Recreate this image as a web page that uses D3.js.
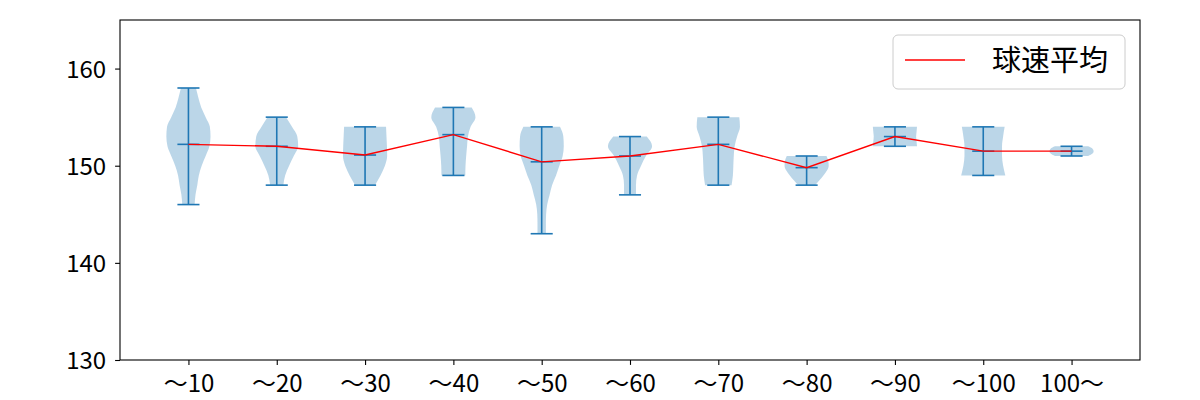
<!DOCTYPE html>
<html>
<head>
<meta charset="utf-8">
<script src="https://cdn.jsdelivr.net/npm/d3@7"></script>
<style>
  html, body { margin: 0; padding: 0; background: #fff; }
  svg { display: block; }
  text { font-family: "Noto Sans CJK JP", "Noto Sans", sans-serif; fill: #000; }
</style>
</head>
<body>
<svg id="chart" width="1200" height="400"></svg>
<script>
// ---- data ----
const categories = ["〜10", "〜20", "〜30", "〜40", "〜50", "〜60", "〜70", "〜80", "〜90", "〜100", "100〜"];
const minVals  = [146, 148, 148, 149, 143, 147, 148, 148, 152, 149, 151];
const maxVals  = [158, 155, 154, 156, 154, 153, 155, 151, 154, 154, 152];
const meanVals = [152.2, 152.0, 151.1, 153.2, 150.4, 151.0, 152.2, 149.8, 153.0, 151.5, 151.5];
// relative density, sampled evenly from min to max of each group
const violinDensity = [
  [0.28, 0.32, 0.40, 0.47, 0.60, 0.78, 0.95, 1.00, 0.97, 0.78, 0.58, 0.45, 0.34],
  [0.30, 0.38, 0.56, 0.77, 0.97, 0.93, 0.69, 0.42],
  [0.45, 0.70, 0.90, 1.00, 0.99, 0.97, 0.95],
  [0.54, 0.55, 0.58, 0.62, 0.66, 0.78, 1.00, 0.83],
  [0.19, 0.19, 0.20, 0.25, 0.36, 0.47, 0.65, 0.80, 0.95, 1.00, 0.98, 0.83],
  [0.27, 0.27, 0.32, 0.50, 0.72, 1.00, 0.76],
  [0.60, 0.66, 0.68, 0.70, 0.74, 0.85, 0.98, 0.95],
  [0.38, 0.58, 0.76, 0.92, 1.00, 0.98, 0.90],
  [1.00, 0.98, 0.96, 0.98, 1.00],
  [1.00, 0.90, 0.85, 0.85, 0.90, 0.97],
  [0.75, 0.95, 1.00, 0.95, 0.75]
];
const yTicks = [130, 140, 150, 160];
const legendLabel = "球速平均";

// ---- layout ----
const W = 1200, H = 400;
const margin = { left: 120, right: 60, top: 20, bottom: 40 };
const svg = d3.select("#chart");
const blue = "#1f77b4";

const x = d3.scaleLinear()
  .domain([0.225, categories.length + 0.775])
  .range([margin.left, W - margin.right]);
const y = d3.scaleLinear()
  .domain([130, 165])
  .range([H - margin.bottom, margin.top]);

const halfW = (x(1.25) - x(1)); // violin half width = 0.25 units
const capHalf = (x(1.125) - x(1));

// violins
const g = svg.append("g");
categories.forEach((c, i) => {
  const cx = x(i + 1);
  const dens = violinDensity[i];
  const n = dens.length;
  const pts = dens.map((d, k) => ({ v: minVals[i] + (maxVals[i] - minVals[i]) * k / (n - 1), d }));
  const area = d3.area()
    .y(p => y(p.v))
    .x0(p => cx - p.d * halfW)
    .x1(p => cx + p.d * halfW)
    .curve(d3.curveMonotoneY);
  g.append("path")
    .attr("d", area(pts))
    .attr("fill", blue)
    .attr("fill-opacity", 0.3);
});

// extrema & mean lines
categories.forEach((c, i) => {
  const cx = x(i + 1);
  const lg = g.append("g").attr("stroke", blue).attr("stroke-width", 1.6);
  lg.append("line").attr("x1", cx).attr("x2", cx).attr("y1", y(minVals[i])).attr("y2", y(maxVals[i]));
  [minVals[i], maxVals[i], meanVals[i]].forEach(v => {
    lg.append("line").attr("x1", cx - capHalf).attr("x2", cx + capHalf).attr("y1", y(v)).attr("y2", y(v));
  });
});

// mean line (red)
const line = d3.line().x((d, i) => x(i + 1)).y(d => y(d));
svg.append("path")
  .attr("d", line(meanVals))
  .attr("fill", "none")
  .attr("stroke", "red")
  .attr("stroke-width", 1.4);

// axes frame
svg.append("rect")
  .attr("x", margin.left).attr("y", margin.top)
  .attr("width", W - margin.left - margin.right)
  .attr("height", H - margin.top - margin.bottom)
  .attr("fill", "none").attr("stroke", "#000").attr("stroke-width", 1.1);

// x axis
const xAxis = d3.axisBottom(x)
  .tickValues(d3.range(1, categories.length + 1))
  .tickFormat(d => categories[d - 1])
  .tickSize(4.9).tickPadding(4.9);
const xg = svg.append("g").attr("transform", `translate(0,${H - margin.bottom})`).call(xAxis);
xg.select(".domain").remove();
xg.selectAll(".tick line").attr("stroke", "#000").attr("stroke-width", 1.1);
xg.selectAll(".tick text")
  .attr("font-size", 24).attr("font-family", "'Noto Sans CJK JP', sans-serif")
  .attr("dy", null).attr("y", 32).attr("fill", "#000");

// y axis
const yAxis = d3.axisLeft(y).tickValues(yTicks).tickSize(4.9).tickPadding(9);
const yg = svg.append("g").attr("transform", `translate(${margin.left},0)`).call(yAxis);
yg.select(".domain").remove();
yg.selectAll(".tick line").attr("stroke", "#000").attr("stroke-width", 1.1);
yg.selectAll(".tick text")
  .attr("font-size", 24).attr("font-family", "'Noto Sans CJK JP', sans-serif")
  .attr("dy", "0.36em").attr("fill", "#000");

// legend
const lgX = 893, lgY = 35, lgW = 232, lgH = 54;
const leg = svg.append("g");
leg.append("rect")
  .attr("x", lgX).attr("y", lgY).attr("width", lgW).attr("height", lgH)
  .attr("rx", 5).attr("ry", 5)
  .attr("fill", "#fff").attr("fill-opacity", 0.8)
  .attr("stroke", "#ccc").attr("stroke-width", 1);
leg.append("line")
  .attr("x1", lgX + 12).attr("x2", lgX + 72)
  .attr("y1", lgY + 25).attr("y2", lgY + 25)
  .attr("stroke", "red").attr("stroke-width", 1.5);
leg.append("text")
  .attr("x", lgX + 99).attr("y", lgY + 36)
  .attr("font-size", 29)
  .text(legendLabel);
</script>
</body>
</html>
